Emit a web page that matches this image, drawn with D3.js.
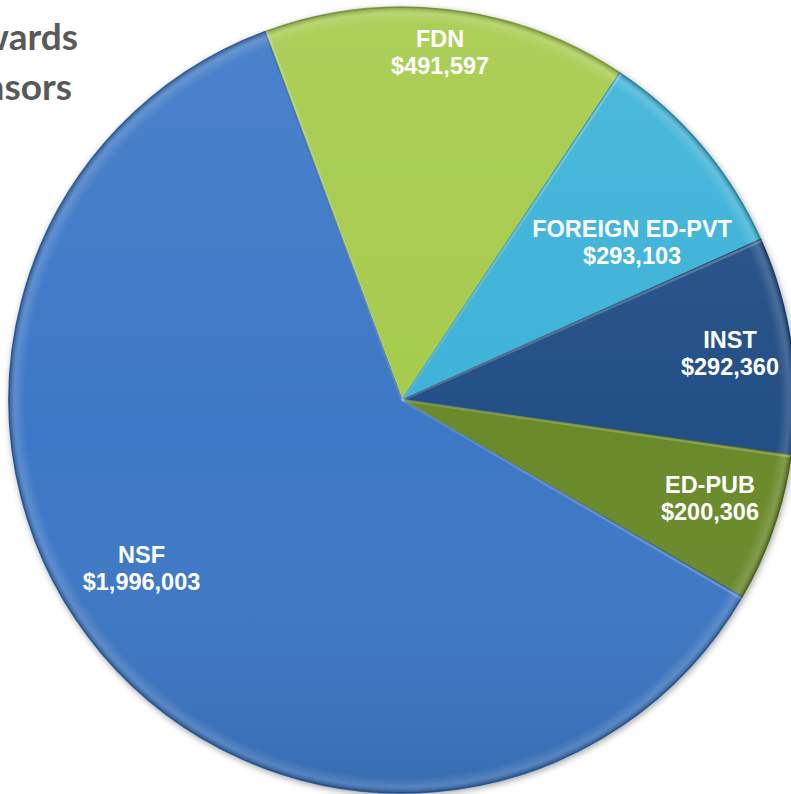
<!DOCTYPE html>
<html><head><meta charset="utf-8">
<script src="https://cdn.jsdelivr.net/npm/d3@7"></script>
<style>html,body{margin:0;padding:0;background:#fff;overflow:hidden}</style>
</head><body>
<svg id="chart" width="791" height="794"></svg>
<script>
const categories = ["FDN", "FOREIGN ED-PVT", "INST", "ED-PUB", "NSF"];
const values = [491597, 293103, 292360, 200306, 1996003];
const colors = ["#A5CB4C", "#3CB3D8", "#214F86", "#6A8A2A", "#3C78C6"];
const titleLines = ["Awards", "Sponsors"];

const svg = d3.select("#chart");
const cx = 402, cy = 400, R = 393;
const startDeg = -20.4;
const fmt = d3.format(",");

const defs = svg.append("defs");
const shadow = defs.append("filter").attr("id","shadow").attr("x","-10%").attr("y","-10%").attr("width","120%").attr("height","120%");
shadow.append("feGaussianBlur").attr("in","SourceAlpha").attr("stdDeviation",3);
shadow.append("feOffset").attr("dx",1).attr("dy",2).attr("result","b");
shadow.append("feFlood").attr("flood-color","#000").attr("flood-opacity",0.35);
shadow.append("feComposite").attr("in2","b").attr("operator","in");
const m = shadow.append("feMerge"); m.append("feMergeNode"); m.append("feMergeNode").attr("in","SourceGraphic");

const shade = defs.append("linearGradient").attr("id","shade").attr("x1",0).attr("y1",0).attr("x2",0).attr("y2",1);
shade.append("stop").attr("offset","0%").attr("stop-color","#fff").attr("stop-opacity",0.08);
shade.append("stop").attr("offset","55%").attr("stop-color","#fff").attr("stop-opacity",0);
shade.append("stop").attr("offset","100%").attr("stop-color","#000").attr("stop-opacity",0.1);

const rim = defs.append("radialGradient").attr("id","rim").attr("gradientUnits","userSpaceOnUse")
  .attr("cx",cx).attr("cy",cy).attr("r",R);
rim.append("stop").attr("offset","0%").attr("stop-color","#fff").attr("stop-opacity",0.0);
rim.append("stop").attr("offset","96%").attr("stop-color","#fff").attr("stop-opacity",0.0);
rim.append("stop").attr("offset","98.5%").attr("stop-color","#fff").attr("stop-opacity",0.15);
rim.append("stop").attr("offset","100%").attr("stop-color","#000").attr("stop-opacity",0.25);

// Title (partially off-canvas, as in the reference)
svg.append("g").selectAll("text").data(titleLines).join("text")
  .attr("x", (d,i) => i === 0 ? 78 : 72)
  .attr("y", (d,i) => i === 0 ? 50 : 100)
  .attr("text-anchor","end")
  .attr("font-family","Lato, 'Open Sans', sans-serif")
  .attr("font-weight","bold")
  .attr("font-size",37)
  .attr("fill","#595959")
  .text(d => d);

const pie = d3.pie().sort(null).value(d => d)
  .startAngle(startDeg * Math.PI/180).endAngle(startDeg * Math.PI/180 + 2*Math.PI);
const arcs = pie(values);
const arc = d3.arc().innerRadius(0).outerRadius(R);

const g = svg.append("g").attr("transform",`translate(${cx},${cy})`);
const slices = g.append("g").attr("filter","url(#shadow)");
slices.selectAll("path.slice").data(arcs).join("path")
  .attr("class","slice")
  .attr("d", arc)
  .attr("fill", (d,i) => colors[i])
  .attr("stroke", (d,i) => d3.color(colors[i]).darker(0.6))
  .attr("stroke-width", 1.5)
  .attr("stroke-linejoin","round");
g.append("circle").attr("r",R).attr("fill","url(#shade)");
g.append("circle").attr("cx",cx).attr("cy",cy).attr("r",R).attr("fill","url(#rim)").attr("transform",`translate(${-cx},${-cy})`);

// Bevel highlight along the leading edge of each slice
g.selectAll("path.bevel").data(arcs).join("path")
  .attr("class","bevel")
  .attr("d", d => {
    const a = d.startAngle + 0.004;
    return `M0,0L${R*Math.sin(a)},${-R*Math.cos(a)}`;
  })
  .attr("stroke","#fff").attr("stroke-opacity",0.22).attr("stroke-width",2.5);

// Label layout: [radius, angle shift in degrees from slice middle]
const labelLayout = [[351,-0.4],[279.6,5.6],[331.5,-0.3],[322.9,-1.6],[309.4,7.5]];
const lg = g.append("g");
arcs.forEach((d,i) => {
  const mid = (d.startAngle + d.endAngle)/2 + labelLayout[i][1]*Math.PI/180;
  const r = labelLayout[i][0];
  const x = r*Math.sin(mid), y = -r*Math.cos(mid);
  const t = lg.append("text").attr("text-anchor","middle")
    .attr("font-family","'Liberation Sans', Arial, sans-serif")
    .attr("font-weight","bold").attr("font-size",23.5).attr("fill","#fff");
  t.append("tspan").attr("x",x).attr("y",y-4).text(categories[i]);
  t.append("tspan").attr("x",x).attr("y",y+23).text("$" + fmt(values[i]));
});
</script>
</body></html>
